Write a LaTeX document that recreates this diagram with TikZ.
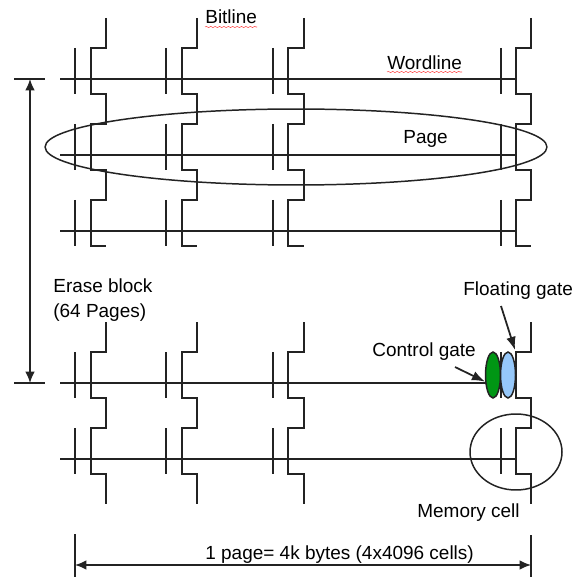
\documentclass[tikz,border=0pt]{standalone}
\usepackage{xcolor}
\usepackage{fontspec}
\setmainfont{Liberation Sans}
\usetikzlibrary{shapes.geometric, arrows.meta, decorations.pathmorphing}
\definecolor{ink}{RGB}{35, 35, 35}
\definecolor{label}{RGB}{55, 55, 55}
\definecolor{ctrl}{RGB}{0, 150, 20}
\definecolor{floating}{RGB}{150, 200, 250}
\tikzstyle{bitline} = [ink, line width=0.95pt]
\tikzstyle{gate} = [ink, line width=0.85pt]
\tikzstyle{wordline} = [ink, line width=0.85pt]
\tikzstyle{heavyword} = [ink, line width=1.05pt]
\tikzstyle{tag} = [label, font=\fontsize{10.8}{13}\selectfont, inner sep=0pt, align=left]
\tikzstyle{arrow} = [ink, line width=1pt, -{Latex[length=7.5pt, width=5.5pt]}]
\tikzstyle{bothways} = [ink, line width=0.9pt, {Latex[length=6.5pt, width=5.5pt]}-{Latex[length=6.5pt, width=5.5pt]}]
\tikzstyle{loop} = [ellipse, draw=ink, line width=0.85pt, inner sep=0pt]
\tikzstyle{squiggle} = [red!70!white, line width=0.3pt, decorate, decoration={snake, amplitude=0.35pt, segment length=2.5pt}]

\begin{document}
\begin{tikzpicture}[x=0.02cm, y=-0.02cm]
    \useasboundingbox (0, 0) rectangle (576, 577);

    % Wordlines
    \draw[wordline] (60, 79) -- (516, 79);
    \draw[wordline] (60, 155) -- (516, 155);
    \draw[wordline] (60, 231) -- (516, 231);
    \draw[heavyword] (60, 383) -- (516, 383);
    \draw[heavyword] (60, 459) -- (516, 459);

    % Bitlines, upper block
    \draw[bitline] (106, 18) |- (91, 48) |- (106, 94) |- (91, 124) |- (106, 170) |- (91, 200) |- (106, 246);
    \draw[bitline] (197, 18) |- (182, 48) |- (197, 94) |- (182, 124) |- (197, 170) |- (182, 200) |- (197, 246);
    \draw[bitline] (304, 18) |- (288, 48) |- (304, 94) |- (288, 124) |- (304, 170) |- (288, 200) |- (304, 246);
    \draw[bitline] (531, 18) |- (516, 48) |- (531, 94) |- (516, 124) |- (531, 170) |- (516, 200) |- (531, 246);

    % Bitlines, lower block
    \draw[bitline] (106, 322) |- (91, 352) |- (106, 398) |- (91, 428) |- (106, 474) -- (106, 504);
    \draw[bitline] (197, 322) |- (182, 352) |- (197, 398) |- (182, 428) |- (197, 474) -- (197, 504);
    \draw[bitline] (304, 322) |- (288, 352) |- (304, 398) |- (288, 428) |- (304, 474) -- (304, 504);
    \draw[bitline] (531, 322) |- (516, 352) |- (531, 398) |- (516, 428) |- (531, 474) -- (531, 504);

    % Gates
    \draw[gate] (75, 48) -- (75, 94) (75, 124) -- (75, 170) (75, 200) -- (75, 246) (75, 352) -- (75, 398) (75, 428) -- (75, 474);
    \draw[gate] (166, 48) -- (166, 94) (166, 124) -- (166, 170) (166, 200) -- (166, 246) (166, 352) -- (166, 398) (166, 428) -- (166, 474);
    \draw[gate] (273, 48) -- (273, 94) (273, 124) -- (273, 170) (273, 200) -- (273, 246) (273, 352) -- (273, 398) (273, 428) -- (273, 474);
    \draw[gate] (501, 48) -- (501, 94) (501, 124) -- (501, 170) (501, 200) -- (501, 246) (501, 352) -- (501, 398) (501, 428) -- (501, 474);

    % Page and memory cell outlines
    \node[loop, minimum width=10.04cm, minimum height=1.52cm] (page) at (296, 147) {};
    \node[loop, minimum width=1.84cm, minimum height=1.52cm] (cell) at (516, 452) {};

    % Control and floating gates
    \node[loop, fill=ctrl, minimum width=0.3cm, minimum height=0.92cm] (cgate) at (493, 375) {};
    \node[loop, fill=floating, minimum width=0.3cm, minimum height=0.92cm] (fgate) at (508, 375) {};

    % Erase block span
    \coordinate (erasetop) at (30, 79);
    \coordinate (erasebot) at (30, 383);
    \draw[gate] (14, 79) -- (45, 79);
    \draw[gate] (14, 383) -- (45, 383);
    \draw[bothways] (erasetop) -- (erasebot);

    % Page width span
    \coordinate (spanleft) at (75, 565);
    \coordinate (spanright) at (531, 565);
    \draw[gate] (75, 534) -- (75, 577);
    \draw[gate] (531, 535) -- (531, 577);
    \draw[bothways] (spanleft) -- (spanright);

    % Labels
    \node[tag, anchor=west] (bit) at (205, 17) {Bitline};
    \node[tag, anchor=west] (word) at (387, 63) {Wordline};
    \node[tag, anchor=west] (pagetag) at (403, 139) {Page};
    \node[tag, anchor=north west] (erase) at (53, 278) {Erase block\\[1.6pt](64 Pages)};
    \node[tag, anchor=west] (floattag) at (463, 291) {Floating gate};
    \node[tag, anchor=west] (ctrltag) at (372, 352) {Control gate};
    \node[tag, anchor=west] (celltag) at (417, 513) {Memory cell};
    \node[tag, anchor=west] (widthtag) at (205, 555) {1 page= 4k bytes (4x4096 cells)};

    % Spell check marks
    \draw[squiggle] (205, 27) -- (257, 27);
    \draw[squiggle] (387, 72) -- (462, 72);

    % Callouts
    \coordinate (floatfrom) at (501, 306);
    \coordinate (ctrlfrom) at (455, 367);
    \draw[arrow] (floatfrom) -- (515, 350);
    \draw[arrow] (ctrlfrom) -- (cgate.220);
\end{tikzpicture}
\end{document}
